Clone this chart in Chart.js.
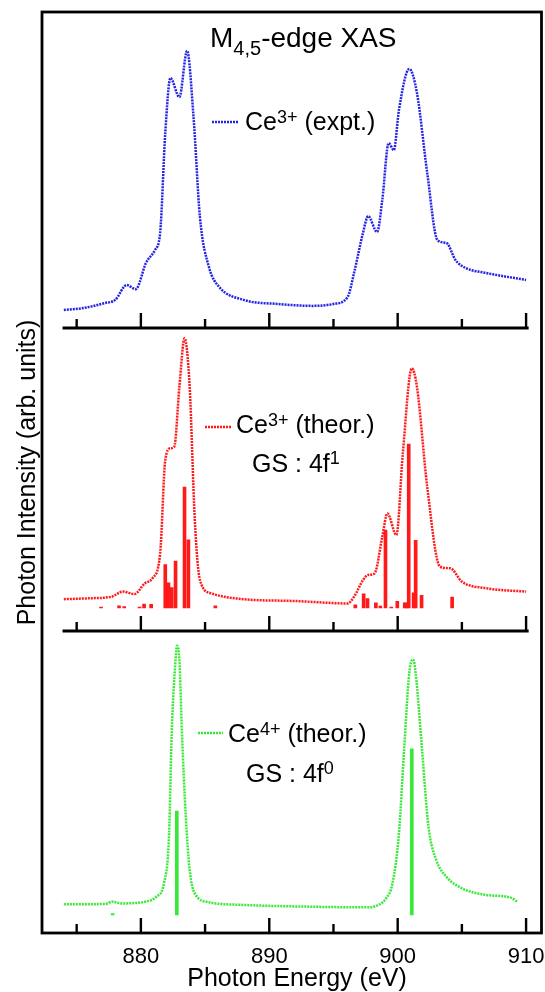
<!DOCTYPE html>
<html>
<head>
<meta charset="utf-8">
<script src="https://cdn.jsdelivr.net/npm/chart.js@4/dist/chart.umd.min.js"></script>
<style>
  html, body { margin: 0; padding: 0; background: #fff; }
</style>
</head>
<body>
<canvas id="xas" width="545" height="992"></canvas>
<script>
// eixo x (eV)
const xMin = 872.3, xMax = 911.2;
const majorTicks = [880, 890, 900, 910];
const minorTicks = [875, 885, 895, 905];

// Ce3+ (expt.) - azul
const exptE = [874.0, 875.5, 877.2, 878.0, 878.9, 879.6, 880.4, 881.1, 881.5, 881.9, 882.3, 883.0, 883.6, 884.1, 884.6, 885.3, 886.1, 888.0, 890.7, 893.4, 895.0, 896.1, 896.6, 897.3, 897.7, 898.4, 898.8, 899.3, 899.7, 900.1, 900.9, 901.5, 902.3, 903.1, 903.8, 904.5, 905.3, 906.9, 910.0];
const exptI = [5.7, 6.3, 7.9, 8.9, 13.6, 12.3, 20.6, 24.7, 30.1, 61.7, 79.1, 73.1, 87.7, 66.8, 35.1, 19.3, 13.0, 8.9, 7.6, 7.0, 7.6, 9.8, 17.4, 30.1, 35.4, 30.4, 40.5, 58.5, 56.3, 69.0, 82.0, 74.4, 49.1, 27.8, 26.9, 21.5, 19.0, 17.4, 15.2];

// Ce3+ (theor.) - vermelho
const ce3E = [874.0, 876.0, 877.7, 878.6, 879.5, 880.3, 880.9, 881.5, 881.9, 882.3, 882.6, 883.0, 883.4, 883.8, 884.2, 884.6, 885.5, 888.0, 892.0, 896.1, 896.6, 897.3, 897.7, 898.2, 898.8, 899.2, 899.9, 900.4, 901.1, 901.5, 902.3, 903.3, 904.1, 905.0, 906.9, 910.0];
const ce3I = [10.5, 10.8, 11.3, 13.0, 12.2, 15.7, 17.4, 25.6, 56.4, 60.3, 60.8, 80.6, 96.6, 80.6, 36.6, 16.8, 12.4, 10.5, 9.9, 9.1, 11.3, 16.8, 18.5, 19.0, 31.1, 38.8, 31.7, 58.6, 86.7, 80.6, 47.6, 21.2, 20.7, 16.3, 14.1, 13.0];
const ce3StickBase = 7.6;
const ce3StickE = [876.9, 878.3, 878.7, 879.9, 880.25, 880.8, 881.9, 882.15, 882.4, 882.7, 883.4, 883.7, 885.8, 896.7, 897.35, 897.65, 898.3, 898.65, 899.05, 899.5, 899.97, 900.55, 900.7, 900.86, 901.24, 901.4, 901.86, 904.24];
const ce3StickH = [0.3, 0.7, 0.5, 0.3, 1.3, 1.2, 14.3, 8.3, 6.7, 15.5, 39.9, 22.5, 0.7, 1.0, 4.7, 3.1, 1.7, 0.6, 25.7, 0.3, 2.2, 1.7, 1.7, 54.1, 5.0, 22.3, 4.2, 3.6];

// Ce4+ (theor.) - verde
const ce4E = [874.0, 877.2, 877.8, 878.4, 880.4, 881.2, 881.8, 882.2, 882.4, 882.7, 882.8, 883.0, 883.2, 883.5, 883.8, 884.2, 885.3, 888.0, 893.4, 897.4, 898.5, 899.1, 899.6, 900.1, 900.5, 900.9, 901.2, 901.4, 901.9, 902.4, 903.0, 903.8, 905.0, 906.9, 908.8, 909.3];
const ce4I = [9.5, 9.6, 10.4, 9.8, 10.4, 12.0, 16.5, 33.0, 66.1, 90.4, 95.1, 90.4, 66.2, 38.5, 20.9, 13.1, 10.2, 9.3, 8.7, 8.5, 9.3, 11.5, 16.5, 33.0, 60.6, 86.0, 90.6, 86.0, 60.6, 35.2, 24.2, 18.6, 14.8, 12.6, 11.7, 10.4];
const ce4StickBase = 6.0;
const ce4StickE = [877.8, 882.8, 901.1];
const ce4StickH = [0.4, 34.4, 55.0];

const BLUE = '#2424e4';
const RED = '#ff1a1a';
const GREEN = '#3ae83a';
const DASH = [2, 1];
const FONT = '"Liberation Sans", Arial, sans-serif';

const pts = (xs, ys) => xs.map((x, i) => ({ x: x, y: ys[i] }));
const sticks = (xs, hs, base) => xs.map((x, i) => ({ x: x, y: [base, base + hs[i]] }));

function curve(data, color, axis) {
  return {
    type: 'line', data: data, yAxisID: axis,
    borderColor: color, borderWidth: 2.5, borderDash: DASH,
    pointRadius: 0, cubicInterpolationMode: 'monotone', fill: false
  };
}
function bars(data, color, axis) {
  return {
    type: 'bar', data: data, yAxisID: axis,
    backgroundColor: color, borderWidth: 0, barThickness: 3, grouped: false
  };
}

function rich(ctx, x, y, parts) {
  parts.forEach(p => {
    ctx.font = p.size + 'px ' + FONT;
    ctx.fillText(p.t, x, y + (p.dy || 0));
    x += ctx.measureText(p.t).width;
  });
}

// moldura, eixos internos e textos
const frame = {
  id: 'frame',
  afterDraw(chart) {
    const { ctx, chartArea: a, scales } = chart;
    const sx = scales.x;
    ctx.save();
    ctx.strokeStyle = '#000';
    ctx.lineWidth = 2.8;
    ctx.strokeRect(a.left, a.top, a.right - a.left, a.bottom - a.top);

    const seps = [scales.y1.bottom, scales.y2.bottom];
    seps.forEach(y => {
      ctx.beginPath();
      ctx.moveTo(sx.getPixelForValue(873.9), y);
      ctx.lineTo(sx.getPixelForValue(910.2), y);
      ctx.stroke();
    });
    ctx.lineWidth = 2.4;
    [...seps, a.bottom].forEach(y => {
      majorTicks.forEach(v => {
        const px = sx.getPixelForValue(v);
        ctx.beginPath(); ctx.moveTo(px, y); ctx.lineTo(px, y - 15); ctx.stroke();
      });
      minorTicks.forEach(v => {
        const px = sx.getPixelForValue(v);
        ctx.beginPath(); ctx.moveTo(px, y); ctx.lineTo(px, y - 9); ctx.stroke();
      });
    });

    // títulos dos eixos
    ctx.fillStyle = '#000';
    ctx.textAlign = 'center';
    ctx.textBaseline = 'alphabetic';
    ctx.font = '25px ' + FONT;
    ctx.fillText('Photon Energy (eV)', 297, 986);
    ctx.save();
    ctx.translate(35, (a.top + a.bottom) / 2);
    ctx.rotate(-Math.PI / 2);
    ctx.fillText('Photon Intensity (arb. units)', 0, 0);
    ctx.restore();

    ctx.textAlign = 'left';
    rich(ctx, 210, 47, [{ t: 'M', size: 28 }, { t: '4,5', size: 20, dy: 8 }, { t: '-edge XAS', size: 28 }]);

    // legendas
    const leg = [
      { c: BLUE, l: [212, 239, 122], tx: 245, ty: 130, s: '3+', rest: ' (expt.)' },
      { c: RED, l: [205, 231, 427], tx: 236, ty: 433, s: '3+', rest: ' (theor.)' },
      { c: GREEN, l: [198, 223, 733], tx: 228, ty: 742, s: '4+', rest: ' (theor.)' }
    ];
    leg.forEach(g => {
      ctx.save();
      ctx.strokeStyle = g.c; ctx.lineWidth = 2.5; ctx.setLineDash(DASH);
      ctx.beginPath(); ctx.moveTo(g.l[0], g.l[2]); ctx.lineTo(g.l[1], g.l[2]); ctx.stroke();
      ctx.restore();
      rich(ctx, g.tx, g.ty, [{ t: 'Ce', size: 25 }, { t: g.s, size: 18, dy: -7 }, { t: g.rest, size: 25 }]);
    });
    rich(ctx, 252, 472, [{ t: 'GS : 4f', size: 25 }, { t: '1', size: 18, dy: -8 }]);
    rich(ctx, 246, 782, [{ t: 'GS : 4f', size: 25 }, { t: '0', size: 18, dy: -8 }]);
    ctx.restore();
  }
};

const hiddenY = (w) => ({
  type: 'linear', position: 'left', stack: 'painel', stackWeight: w,
  min: 0, max: 100,
  ticks: { display: false }, grid: { display: false, drawTicks: false }, border: { display: false }
});

new Chart(document.getElementById('xas'), {
  type: 'line',
  data: {
    datasets: [
      bars(sticks(ce3StickE, ce3StickH, ce3StickBase), RED, 'y2'),
      bars(sticks(ce4StickE, ce4StickH, ce4StickBase), GREEN, 'y3'),
      curve(pts(exptE, exptI), BLUE, 'y1'),
      curve(pts(ce3E, ce3I), RED, 'y2'),
      curve(pts(ce4E, ce4I), GREEN, 'y3')
    ]
  },
  options: {
    responsive: false,
    animation: false,
    layout: { autoPadding: false, padding: { left: 42, top: 12, right: 2, bottom: 24 } },
    plugins: { legend: { display: false }, tooltip: { enabled: false } },
    scales: {
      x: {
        type: 'linear', min: xMin, max: xMax, offset: false,
        afterBuildTicks: s => { s.ticks = majorTicks.map(v => ({ value: v })); },
        grid: { display: false, drawTicks: true, tickLength: 12 },
        border: { display: false },
        ticks: { color: '#000', padding: 0.5, font: { family: FONT, size: 22, lineHeight: 1 } }
      },
      y1: Object.assign(hiddenY(316), { weight: 3 }),
      y2: Object.assign(hiddenY(303), { weight: 2 }),
      y3: Object.assign(hiddenY(302), { weight: 1 })
    }
  },
  plugins: [frame]
});
</script>
</body>
</html>
